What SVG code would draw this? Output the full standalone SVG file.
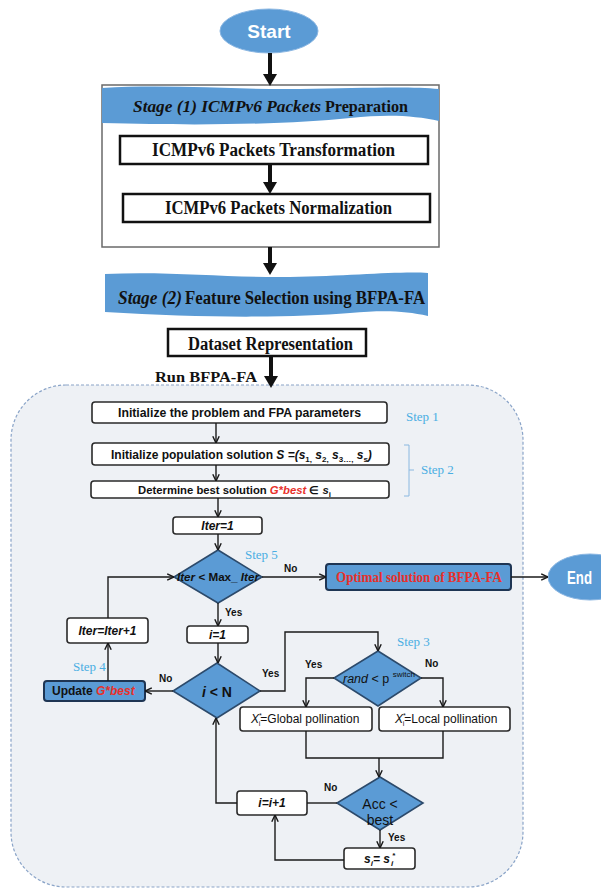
<svg xmlns="http://www.w3.org/2000/svg" width="601" height="889" viewBox="0 0 601 889">
<style>
.serif{font-family:"Liberation Serif","Times New Roman",serif;font-weight:bold;fill:#111}
.sans{font-family:"Liberation Sans",Arial,sans-serif;fill:#111}
.b{font-weight:bold}
.it{font-style:italic}
.box{fill:#fff;stroke:#2a2a2a;stroke-width:1.6}
.tbox{fill:#fff;stroke:#111;stroke-width:2.5}
.blue{fill:#5b9bd5;stroke:#2c4a6b;stroke-width:1.6}
.dark{fill:#5b9bd5;stroke:#1e3553;stroke-width:2}
.oval{fill:#5b9bd5;stroke:#8ab6e2;stroke-width:1}
.banner{fill:#5b9bd5}
.conn{fill:none;stroke:#1a1a1a;stroke-width:1.4}
.thick{fill:none;stroke:#111;stroke-width:4}
.step{font-family:"Liberation Serif","Times New Roman",serif;font-size:13px;fill:#4aaee3}
.lbl{font-family:"Liberation Sans",Arial,sans-serif;font-size:10px;font-weight:bold;fill:#111}
.red{fill:#e8302a}
.white{fill:#fff}
</style>
<defs>
<marker id="ah" viewBox="0 0 10 10" refX="0" refY="5" markerWidth="12" markerHeight="14" preserveAspectRatio="none" markerUnits="userSpaceOnUse" orient="auto"><path d="M0,0 L10,5 L0,10 z" fill="#111"/></marker>
<marker id="a" viewBox="0 0 10 10" refX="9.5" refY="5" markerWidth="8" markerHeight="8" markerUnits="userSpaceOnUse" orient="auto"><path d="M1,1 L9.5,5 L1,9" fill="none" stroke="#1a1a1a" stroke-width="1.8"/></marker>
</defs>
<rect x="0" y="0" width="601" height="889" fill="#fff"/>

<!-- Dashed region -->
<rect id="region" x="11" y="385" width="512" height="502" rx="55" ry="55" fill="#eef1f5" stroke="#8aa4c8" stroke-width="1.2" stroke-dasharray="3,2"/>

<g id="start">
<ellipse class="oval" cx="269" cy="31" rx="49" ry="22"/>
<text class="sans b white" font-size="19" x="269" y="38" text-anchor="middle">Start</text>
</g>

<g id="stage1">
<rect x="102" y="85" width="337" height="162" fill="#fff" stroke="#6a6a6a" stroke-width="1.5"/>
<path class="banner" d="M102,88 C170,84 240,90 300,89 C360,88 410,86 439,89 L439,121 C415,116 390,114 350,118 C290,124 210,126 102,123 Z"/>
<text class="serif it" font-size="17" x="133" y="112" textLength="188" lengthAdjust="spacingAndGlyphs">Stage (1) ICMPv6 Packets</text>
<text class="serif" font-size="17" x="325" y="112" textLength="83" lengthAdjust="spacingAndGlyphs">Preparation</text>
</g>

<g id="transformation">
<rect class="tbox" x="120" y="136" width="308" height="28"/>
<text class="serif" font-size="18" x="152" y="156" textLength="243" lengthAdjust="spacingAndGlyphs">ICMPv6 Packets  Transformation</text>
</g>

<g id="normalization">
<rect class="tbox" x="123" y="194" width="307" height="28"/>
<text class="serif" font-size="18" x="165" y="214" textLength="227" lengthAdjust="spacingAndGlyphs">ICMPv6 Packets Normalization</text>
</g>

<g id="stage2">
<path class="banner" d="M105,274 C170,271 230,278 290,277 C350,276 400,271 428,273 L428,316 C405,311 385,310 350,313 C290,318 200,318 105,312 Z"/>
<text class="serif it" font-size="18" x="118" y="304" textLength="64" lengthAdjust="spacingAndGlyphs">Stage (2)</text>
<text class="serif" font-size="18" x="185" y="304" textLength="240" lengthAdjust="spacingAndGlyphs">Feature Selection using BFPA-FA</text>
</g>

<g id="dataset">
<rect class="tbox" x="168" y="329" width="198" height="27"/>
<text class="serif" font-size="18" x="188" y="350" textLength="165" lengthAdjust="spacingAndGlyphs">Dataset Representation</text>
</g>

<text id="run-label" class="serif" font-size="14" x="155" y="382" textLength="102" lengthAdjust="spacingAndGlyphs">Run BFPA-FA</text>

<g id="init-problem">
<rect class="box" x="92" y="402" width="295" height="21" rx="3"/>
<text class="sans b" font-size="12" x="118" y="417" textLength="243" lengthAdjust="spacingAndGlyphs">Initialize the problem and FPA parameters</text>
</g>
<text id="step1" class="step" x="406" y="421">Step 1</text>

<g id="init-population">
<rect class="box" x="92" y="443" width="297" height="22" rx="3"/>
<text class="sans b" font-size="12" x="111" y="459">Initialize population solution <tspan class="it">S =(s</tspan><tspan font-size="8" dy="3">1,</tspan><tspan class="it" dy="-3"> s</tspan><tspan font-size="8" dy="3">2,</tspan><tspan class="it" dy="-3"> s</tspan><tspan font-size="8" dy="3">3…,</tspan><tspan class="it" dy="-3"> s</tspan><tspan font-size="8" dy="3">s</tspan><tspan class="it" dy="-3">)</tspan></text>
</g>

<g id="determine-best">
<rect class="box" x="91" y="481" width="298" height="17" rx="3"/>
<text class="sans b" font-size="11.3" x="138" y="494">Determine best solution <tspan class="it red">G*best</tspan> ∈ <tspan class="it">s</tspan><tspan font-size="8" dy="3">i</tspan></text>
</g>
<g id="step2">
<path d="M404,445 H409 V496 H404 M409,470 H414" fill="none" stroke="#8ab8e0" stroke-width="1"/>
<text class="step" x="421" y="474">Step 2</text>
</g>

<g id="iter1">
<rect class="box" x="173" y="517" width="89" height="17" rx="3"/>
<text class="sans b it" font-size="12" x="217.5" y="530" text-anchor="middle">Iter=1</text>
</g>

<g id="dec-iter">
<polygon class="blue" points="218,550 262,577 218,603 174,577"/>
<text class="sans b" font-size="10.5" x="177" y="581" textLength="82" lengthAdjust="spacingAndGlyphs"><tspan class="it">Iter</tspan> &lt; Max_ <tspan class="it">Iter</tspan></text>
</g>
<text id="step5" class="step" x="245" y="559">Step 5</text>

<g id="optimal">
<rect class="dark" x="326" y="564" width="185" height="26" rx="3"/>
<text class="serif red" font-size="14" x="336" y="582" textLength="166" lengthAdjust="spacingAndGlyphs">Optimal solution of BFPA-FA</text>
</g>

<g id="end">
<ellipse class="oval" cx="590" cy="577" rx="42" ry="23"/>
<text class="sans b white" font-size="18" x="567" y="584" textLength="25" lengthAdjust="spacingAndGlyphs">End</text>
</g>

<g id="i1">
<rect class="box" x="187" y="626" width="61" height="17" rx="3"/>
<text class="sans b it" font-size="12" x="217.5" y="639" text-anchor="middle">i=1</text>
</g>

<g id="iter-inc">
<rect class="box" x="67" y="618" width="81" height="25" rx="3"/>
<text class="sans b it" font-size="12" x="107.5" y="635" text-anchor="middle">Iter=Iter+1</text>
</g>

<g id="dec-i">
<polygon class="blue" points="217,663 260,691 217,718 173,691"/>
<text class="sans b" font-size="14" x="217" y="697" text-anchor="middle"><tspan class="it">i</tspan> &lt; N</text>
</g>
<text id="step4" class="step" x="73" y="671">Step 4</text>

<g id="update">
<rect class="dark" x="44" y="681" width="101" height="20" rx="3"/>
<text class="sans b" font-size="12" x="52" y="695">Update <tspan class="it red">G*best</tspan></text>
</g>

<text id="step3" class="step" x="397" y="646">Step 3</text>

<g id="dec-rand">
<polygon class="blue" points="378,651 421,678 378,706 334,678"/>
<text class="sans" font-size="12.5" x="343" y="683"><tspan class="it">rand</tspan> &lt; p <tspan font-size="8" dy="-6">switch</tspan></text>
</g>

<g id="global">
<rect class="box" x="240" y="707" width="132" height="24" rx="3"/>
<text class="sans" font-size="12" x="251" y="723"><tspan class="it">X</tspan><tspan font-size="7" dy="-5">*</tspan><tspan font-size="7" dx="-3" dy="8">i</tspan><tspan dy="-3">=Global pollination</tspan></text>
</g>

<g id="local">
<rect class="box" x="379" y="707" width="131" height="24" rx="3"/>
<text class="sans" font-size="12" x="395" y="723"><tspan class="it">X</tspan><tspan font-size="7" dy="-5">*</tspan><tspan font-size="7" dx="-3" dy="8">i</tspan><tspan dy="-3">=Local pollination</tspan></text>
</g>

<g id="dec-acc">
<polygon class="blue" points="380,777 423,803 380,830 337,803"/>
<text class="sans" font-size="14" x="380" y="809" text-anchor="middle">Acc &lt;</text>
<text class="sans" font-size="14" x="380" y="825" text-anchor="middle">best</text>
</g>

<g id="i-inc">
<rect class="box" x="237" y="791" width="70" height="24" rx="3"/>
<text class="sans b it" font-size="12" x="272" y="807" text-anchor="middle">i=i+1</text>
</g>

<g id="si">
<rect class="box" x="344" y="848" width="71" height="21" rx="3"/>
<text class="sans b it" font-size="12" x="364" y="863">s<tspan font-size="8" dy="3">i</tspan><tspan dy="-3">= s</tspan><tspan font-size="8" dx="2" dy="-5">*</tspan><tspan font-size="8" dx="-4" dy="8">i</tspan></text>
</g>

<g id="connectors">
<path class="thick" d="M270,53 V74" marker-end="url(#ah)"/>
<path class="thick" d="M270,164 V182" marker-end="url(#ah)"/>
<path class="thick" d="M270,247 V263" marker-end="url(#ah)"/>
<path class="thick" d="M271,356 V376" marker-end="url(#ah)"/>
<path class="conn" d="M216,423 V443" marker-end="url(#a)"/>
<path class="conn" d="M216,465 V481" marker-end="url(#a)"/>
<path class="conn" d="M218,498 V517" marker-end="url(#a)"/>
<path class="conn" d="M218,534 V550" marker-end="url(#a)"/>
<path class="conn" d="M262,577 H326" marker-end="url(#a)"/>
<path class="conn" d="M511,577 H548" marker-end="url(#a)"/>
<path class="conn" d="M218,603 V626" marker-end="url(#a)"/>
<path class="conn" d="M218,643 V663" marker-end="url(#a)"/>
<path class="conn" d="M173,691 H145" marker-end="url(#a)"/>
<path class="conn" d="M108,681 V643" marker-end="url(#a)"/>
<path class="conn" d="M108,618 V577 H174" marker-end="url(#a)"/>
<path class="conn" d="M260,691 H285 V632 H378 V651" marker-end="url(#a)"/>
<path class="conn" d="M334,678 H306 V707" marker-end="url(#a)"/>
<path class="conn" d="M421,678 H443 V707" marker-end="url(#a)"/>
<path class="conn" d="M306,731 V758 H443 V731"/>
<path class="conn" d="M379,758 V777" marker-end="url(#a)"/>
<path class="conn" d="M337,803 H307"/>
<path class="conn" d="M237,803 H216 V718" marker-end="url(#a)"/>
<path class="conn" d="M380,830 V848" marker-end="url(#a)"/>
<path class="conn" d="M344,860 H275 V815" marker-end="url(#a)"/>
</g>

<g id="labels">
<text class="lbl" x="284" y="572">No</text>
<text class="lbl" x="225" y="616">Yes</text>
<text class="lbl" x="159" y="682">No</text>
<text class="lbl" x="262" y="677">Yes</text>
<text class="lbl" x="305" y="668">Yes</text>
<text class="lbl" x="425" y="667">No</text>
<text class="lbl" x="324" y="791">No</text>
<text class="lbl" x="388" y="841">Yes</text>
</g>
</svg>
